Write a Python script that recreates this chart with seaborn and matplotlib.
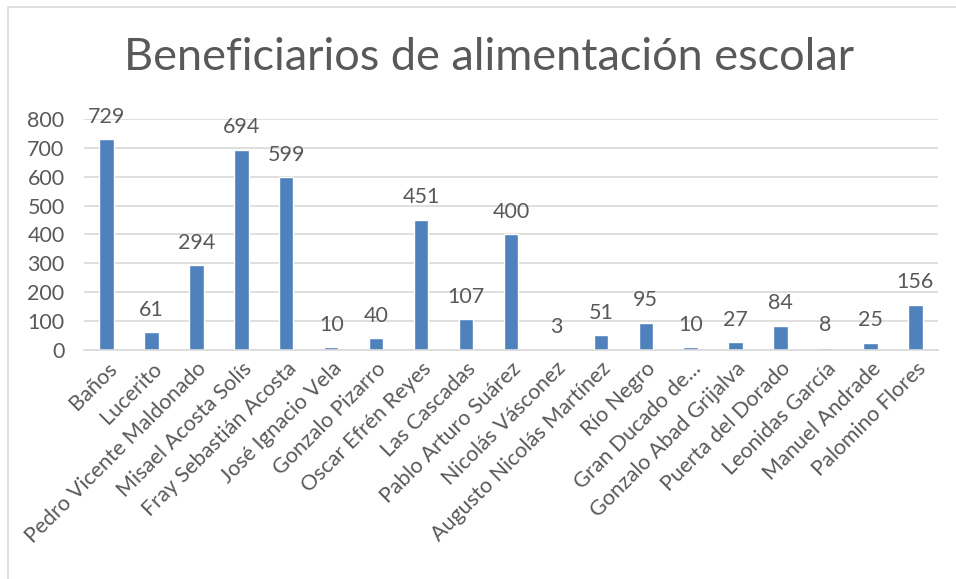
import matplotlib
matplotlib.use("Agg")
import matplotlib.pyplot as plt
import seaborn as sns
import pandas as pd
from matplotlib.patches import Rectangle

categories = ["Baños", "Lucerito", "Pedro Vicente Maldonado", "Misael Acosta Solís",
              "Fray Sebastián Acosta", "José Ignacio Vela", "Gonzalo Pizarro",
              "Oscar Efrén Reyes", "Las Cascadas", "Pablo Arturo Suárez",
              "Nicolás Vásconez", "Augusto Nicolás Martínez", "Río Negro",
              "Gran Ducado de...", "Gonzalo Abad Grijalva", "Puerta del Dorado",
              "Leonidas García", "Manuel Andrade", "Palomino Flores"]
values = [729, 61, 294, 694, 599, 10, 40, 451, 107, 400, 3, 51, 95, 10, 27, 84, 8, 25, 156]
yticks = [0, 100, 200, 300, 400, 500, 600, 700, 800]
title = "Beneficiarios de alimentación escolar"

sns.set_theme(style="white")
plt.rcParams['font.family'] = ['Lato', 'DejaVu Sans']
text_color = "#595959"
grid_color = "#D9D9D9"
bar_color = "#4F81BD"

df = pd.DataFrame({"cat": categories, "val": values})

fig = plt.figure(figsize=(9.56, 5.79), dpi=100)
ax = fig.add_axes([0.0879, 0.3955, 0.8931, 0.399])
sns.barplot(data=df, x="cat", y="val", color=bar_color, width=0.32, ax=ax,
            saturation=1, errorbar=None)
ax.set_ylim(0, 800)
ax.set_xlim(-0.5, len(categories) - 0.5)
ax.set_yticks(yticks)
ax.set_yticklabels([str(t) for t in yticks], fontsize=15.5, color=text_color)
ax.set_xticks(range(len(categories)))
ax.set_xticklabels(categories, rotation=45, ha="right", rotation_mode="anchor",
                   fontsize=15.5, color=text_color)
ax.tick_params(axis="both", length=0, pad=6)
ax.tick_params(axis="y", pad=14)
ax.set_xlabel("")
ax.set_ylabel("")
for s in ["top", "right", "left"]:
    ax.spines[s].set_visible(False)
ax.spines["bottom"].set_color(grid_color)
ax.spines["bottom"].set_linewidth(1.2)
ax.yaxis.grid(True, color=grid_color, linewidth=1.2)
ax.set_axisbelow(True)

for c in ax.containers:
    ax.bar_label(c, labels=[str(v) for v in values], padding=9, fontsize=15.5,
                 color=text_color)

fig.text(0.512, 0.9, title, ha="center", va="center", fontsize=32.5, color=text_color)

fig.patches.append(Rectangle((8 / 956, -0.1), 1.2, 1 - 7 / 579 + 0.1,
                             transform=fig.transFigure, fill=False,
                             edgecolor=grid_color, linewidth=1.2))

fig.savefig("out.png", dpi=100)
